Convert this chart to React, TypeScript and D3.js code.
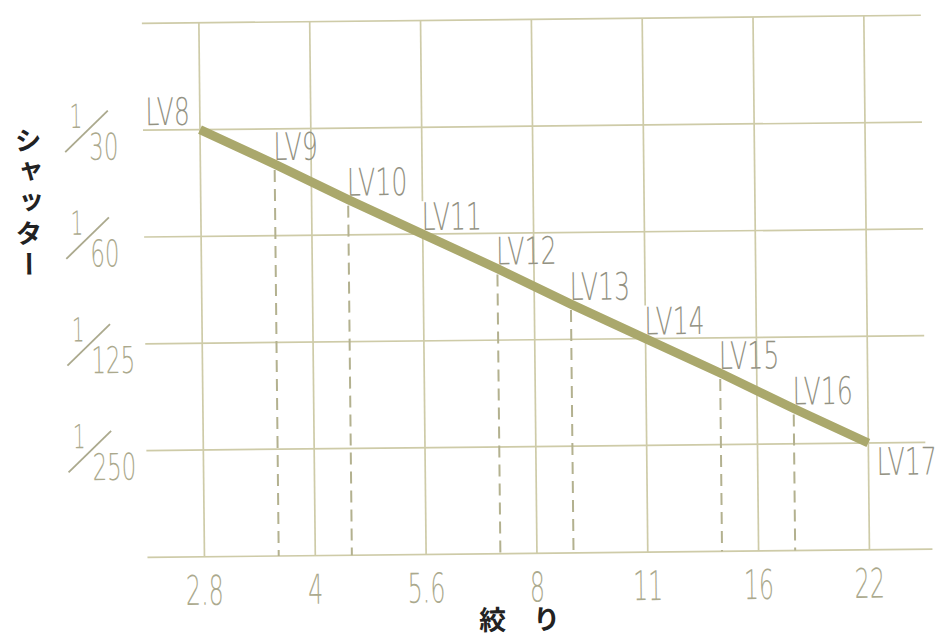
import * as d3 from "d3";
import React from "react";

// aperture ticks (f-number) and their Av stops
const apertureLabels = ["2.8", "4", "5.6", "8", "11", "16", "22"];
const apertureStops = [3, 4, 5, 6, 7, 8, 9];

// shutter speeds (1/x) and their Tv stops
const shutterLabels = ["30", "60", "125", "250"];
const shutterStops = [5, 6, 7, 8];

// light values along the line, with their Av / Tv positions
const lvValues = [8, 9, 10, 11, 12, 13, 14, 15, 16, 17];
const lvAv = [3, 3.67, 4.33, 5, 5.67, 6.33, 7, 7.67, 8.33, 9];
const lvTv = [5, 5.33, 5.67, 6, 6.33, 6.67, 7, 7.33, 7.67, 8];

const W = 940;
const H = 637;

const gridColor = "#cecba8";
const lineColor = "#aaa86c";
const tickColor = "#aba98d";
const lvColor = "#939283";
const font = "'DejaVu Sans', sans-serif";

const App: React.FC = () => {
  const x = d3.scaleLinear().domain([3, 9]).range([202, 867]);
  const y = d3.scaleLinear().domain([4, 9]).range([20, 554]);

  const hLines = d3.range(4, 10);
  const left = 145;
  const right = 924;

  const points = lvValues.map((lv, i) => ({ lv, av: lvAv[i], tv: lvTv[i] }));
  const line = d3
    .line<{ av: number; tv: number }>()
    .x((d) => x(d.av))
    .y((d) => y(d.tv));

  const first = points[0];
  const last = points[points.length - 1];

  return (
    <svg
      width={W}
      height={H}
      style={{ position: "absolute", left: 0, top: 0, background: "#fff" }}
    >
      <g transform="rotate(-0.6 470 320)">
        {/* horizontal grid */}
        {hLines.map((t) => (
          <line
            key={"h" + t}
            x1={left}
            x2={t === 9 ? right + 6 : right}
            y1={y(t)}
            y2={y(t)}
            stroke={gridColor}
            strokeWidth={1.7}
          />
        ))}
        {/* vertical grid */}
        {apertureStops.map((a) => (
          <line
            key={"v" + a}
            x1={x(a)}
            x2={x(a)}
            y1={y(4)}
            y2={y(9)}
            stroke={gridColor}
            strokeWidth={1.7}
          />
        ))}

        {/* dashed drop lines */}
        {points
          .filter((p) => !Number.isInteger(p.av))
          .map((p) => (
            <line
              key={"d" + p.lv}
              x1={x(p.av)}
              x2={x(p.av)}
              y1={y(p.tv) + 6}
              y2={y(9)}
              stroke="#b3b18f"
              strokeWidth={2}
              strokeDasharray="12 7"
            />
          ))}

        {/* LV labels */}
        {points.map((p) => {
          const px = x(p.av);
          const py = y(p.tv);
          let tx = px - 1;
          let ty = py - 4;
          let anchor: "start" | "end" = "start";
          if (p === first) {
            tx = px - 10;
            ty = py - 5;
            anchor = "end";
          } else if (p === last) {
            tx = px + 8;
            ty = py + 32;
          }
          const onGrid = Number.isInteger(p.av) && p !== first && p !== last;
          return (
            <g key={"l" + p.lv} transform={`translate(${tx},${ty}) scale(0.66,1)`}>
              {onGrid && (
                <rect x={-4} y={-29} width={100} height={29} fill="#fff" />
              )}
              <text
                textAnchor={anchor}
                fontFamily={font}
                fontWeight={200}
                fontSize={38}
                fill={lvColor}
              >
                LV{p.lv}
              </text>
            </g>
          );
        })}

        {/* exposure line */}
        <path
          d={line(points) || ""}
          fill="none"
          stroke={lineColor}
          strokeWidth={9}
        />

        {/* x tick labels */}
        {apertureStops.map((a, i) => (
          <text
            key={"xt" + a}
            transform={`translate(${x(a)},${y(9) + 48}) scale(0.58,1)`}
            textAnchor="middle"
            fontFamily={font}
            fontWeight={200}
            fontSize={41}
            fill={tickColor}
          >
            {apertureLabels[i]}
          </text>
        ))}

        {/* y tick labels as 1/x fractions */}
        {shutterStops.map((t, i) => {
          const gl = y(t);
          return (
            <g key={"yt" + t} fill={tickColor}>
              <text
                transform={`translate(78,${gl - 3}) scale(0.6,1)`}
                textAnchor="middle"
                fontFamily={font}
                fontWeight={200}
                fontSize={33}
              >
                1
              </text>
              <line
                x1={67}
                y1={gl + 21}
                x2={110}
                y2={gl - 20}
                stroke={tickColor}
                strokeWidth={1.8}
              />
              <text
                transform={`translate(91,${gl + 29}) scale(0.62,1)`}
                fontFamily={font}
                fontWeight={200}
                fontSize={37}
              >
                {shutterLabels[i]}
              </text>
            </g>
          );
        })}

        {/* axis titles */}
        <text
          x={30}
          y={122}
          style={{ writingMode: "vertical-rl" }}
          fontFamily="'Noto Sans CJK JP', sans-serif"
          fontWeight="bold"
          fontSize={27}
          letterSpacing={4}
          fill="#222"
        >
          シャッター
        </text>
        <text
          x={476}
          y={630}
          fontFamily="'Noto Sans CJK JP', sans-serif"
          fontWeight="bold"
          fontSize={27}
          fill="#222"
        >
          絞　り
        </text>
      </g>
    </svg>
  );
};

export default App;
